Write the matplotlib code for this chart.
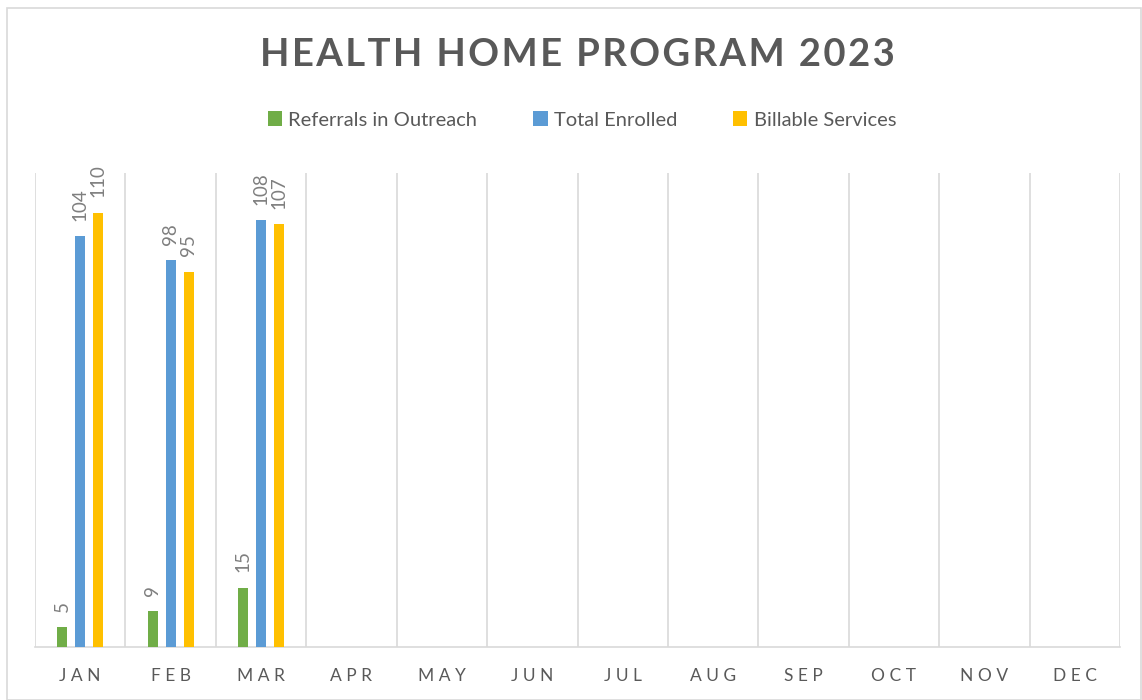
import numpy as np
import matplotlib.pyplot as plt
from matplotlib.patches import Rectangle

months = ["JAN", "FEB", "MAR", "APR", "MAY", "JUN",
          "JUL", "AUG", "SEP", "OCT", "NOV", "DEC"]
series_names = ["Referrals in Outreach", "Total Enrolled", "Billable Services"]
referrals = [5, 9, 15]
enrolled = [104, 98, 108]
billable = [110, 95, 107]
colors = ["#70ad47", "#5b9bd5", "#ffc000"]

plt.rcParams['font.family'] = ['Lato', 'DejaVu Sans']
text_col = "#595959"
grid_col = "#d9d9d9"


def spaced(s, sep="\u2009"):
    return sep.join(s)


fig = plt.figure(figsize=(11.42, 7.0), dpi=100)
ax = fig.add_axes([35 / 1142, 53 / 700, 1085 / 1142, 474 / 700])

x = np.arange(len(months))
offsets = [-0.2, 0.0, 0.2]
width = 0.11
for vals, name, col, off in zip([referrals, enrolled, billable], series_names, colors, offsets):
    xs = x[:len(vals)] + off
    bars = ax.bar(xs, vals, width, color=col, label=name, zorder=3)
    for b, v in zip(bars, vals):
        ax.annotate(str(v), (b.get_x() + b.get_width() / 2, v),
                    xytext=(0, 11), textcoords="offset points",
                    rotation=90, ha="center", va="bottom",
                    fontsize=13.5, color="#7f7f7f")

ax.set_xlim(-0.5, len(months) - 0.5)
ax.set_ylim(0, 120)
ax.set_yticks([])
ax.set_xticks(x)
ax.set_xticklabels([spaced(m, " ") for m in months], fontsize=12.5, color=text_col)
ax.tick_params(axis="x", length=0, pad=15)

# category boundaries
for b in np.arange(-0.5, len(months), 1.0):
    ax.axvline(b, color=grid_col, lw=1.2, zorder=1)
for side in ["top", "right", "left"]:
    ax.spines[side].set_visible(False)
ax.spines["bottom"].set_color(grid_col)
ax.spines["bottom"].set_linewidth(1.2)

fig.text(577 / 1142, 1 - 55 / 700, spaced("HEALTH HOME PROGRAM 2023", "\u200a"),
         ha="center", va="center", fontsize=27.5, fontweight="bold", color=text_col)

leg = fig.legend(loc="center", bbox_to_anchor=(582 / 1142, 1 - 120 / 700), ncol=3,
                 frameon=False, fontsize=14.5, handlelength=0.7, handleheight=0.7,
                 handletextpad=0.3, columnspacing=2.8)
for t in leg.get_texts():
    t.set_color(text_col)

fig.patches.append(Rectangle((7 / 1142, 0), 1134 / 1142, 692 / 700,
                             transform=fig.transFigure, fill=False,
                             edgecolor=grid_col, lw=1.2))

fig.savefig("out.png", dpi=100)
